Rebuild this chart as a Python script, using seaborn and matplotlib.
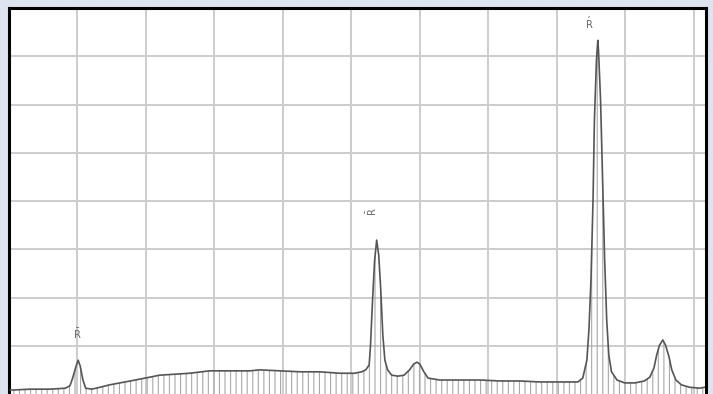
import matplotlib
matplotlib.use("Agg")
import matplotlib.pyplot as plt
import seaborn as sns
import numpy as np

# Retention time (min) and detector signal
time_min = [0.015, 0.31, 0.60, 0.82, 0.89, 0.93, 0.98, 1.01, 1.04, 1.08, 1.12, 1.21,
            1.33, 1.47, 1.62, 1.77, 1.99, 2.20, 2.42, 2.64, 2.93, 3.23, 3.52, 3.66,
            3.96, 4.25, 4.54, 4.83, 5.05, 5.15, 5.21, 5.26, 5.28, 5.31, 5.34, 5.37,
            5.40, 5.43, 5.46, 5.49, 5.53, 5.59, 5.68, 5.77, 5.85, 5.91, 5.96, 6.00,
            6.06, 6.12, 6.29, 6.58, 6.88, 7.17, 7.46, 7.75, 8.04, 8.31, 8.38, 8.44,
            8.47, 8.50, 8.53, 8.55, 8.58, 8.60, 8.61, 8.64, 8.67, 8.70, 8.73, 8.76,
            8.80, 8.88, 8.99, 9.14, 9.28, 9.36, 9.42, 9.46, 9.50, 9.55, 9.59, 9.64,
            9.68, 9.74, 9.82, 9.94, 10.09, 10.16]
signal = [0.08, 0.10, 0.10, 0.12, 0.17, 0.33, 0.58, 0.70, 0.58, 0.29, 0.12, 0.10,
          0.14, 0.19, 0.23, 0.27, 0.33, 0.39, 0.41, 0.43, 0.48, 0.48, 0.48, 0.50,
          0.48, 0.46, 0.46, 0.43, 0.43, 0.46, 0.50, 0.60, 1.01, 1.95, 2.77, 3.19,
          2.88, 2.15, 1.22, 0.70, 0.50, 0.39, 0.37, 0.39, 0.50, 0.62, 0.66, 0.62,
          0.46, 0.33, 0.29, 0.29, 0.29, 0.27, 0.27, 0.25, 0.25, 0.25, 0.33, 0.70,
          1.33, 2.36, 4.02, 5.67, 6.92, 7.33, 7.12, 6.09, 4.43, 2.77, 1.53, 0.81,
          0.46, 0.29, 0.23, 0.23, 0.27, 0.35, 0.54, 0.81, 1.01, 1.12, 1.01, 0.77,
          0.50, 0.29, 0.19, 0.14, 0.12, 0.14]

# Peak labels
peak_x = [1.00, 5.30, 8.48]
peak_y = [1.24, 3.77, 7.70]
peak_labels = [r"$\bar{\mathrm{R}}$", r"$\bar{\mathrm{R}}$", r"$\acute{\mathrm{R}}$"]
peak_rot = [0, 90, 0]

sns.set_theme(style="white")
plt.rcParams["hatch.linewidth"] = 0.8
plt.rcParams["hatch.color"] = "#a8a8a8"

fig = plt.figure(figsize=(7.13, 3.94), dpi=100, facecolor="#dde4f0")
ax = fig.add_axes([9 / 713, 0, 697 / 713, 386 / 394])
ax.set_facecolor("white")

ax.set_xlim(0, 10.18)
ax.set_ylim(0, 8)
ax.set_xticks(range(1, 11))
ax.set_yticks(range(1, 8))
ax.grid(True, color="#cccccc", linewidth=1.4)
ax.tick_params(length=0, labelbottom=False, labelleft=False)

ax.fill_between(time_min, 0, signal, facecolor="none", edgecolor="#a8a8a8",
                hatch="|||", linewidth=0, zorder=2)
sns.lineplot(x=time_min, y=signal, ax=ax, color="#555555", linewidth=1.2,
             sort=False, zorder=3)

for px, py, lab, rot in zip(peak_x, peak_y, peak_labels, peak_rot):
    ax.text(px, py, lab, ha="center", va="center", fontsize=7, color="#666666",
            rotation=rot, zorder=4)

for side in ["left", "top", "right"]:
    ax.spines[side].set_visible(True)
    ax.spines[side].set_color("black")
    ax.spines[side].set_linewidth(2.2)
ax.spines["bottom"].set_visible(False)

fig.savefig("out.png", dpi=100, facecolor=fig.get_facecolor())
